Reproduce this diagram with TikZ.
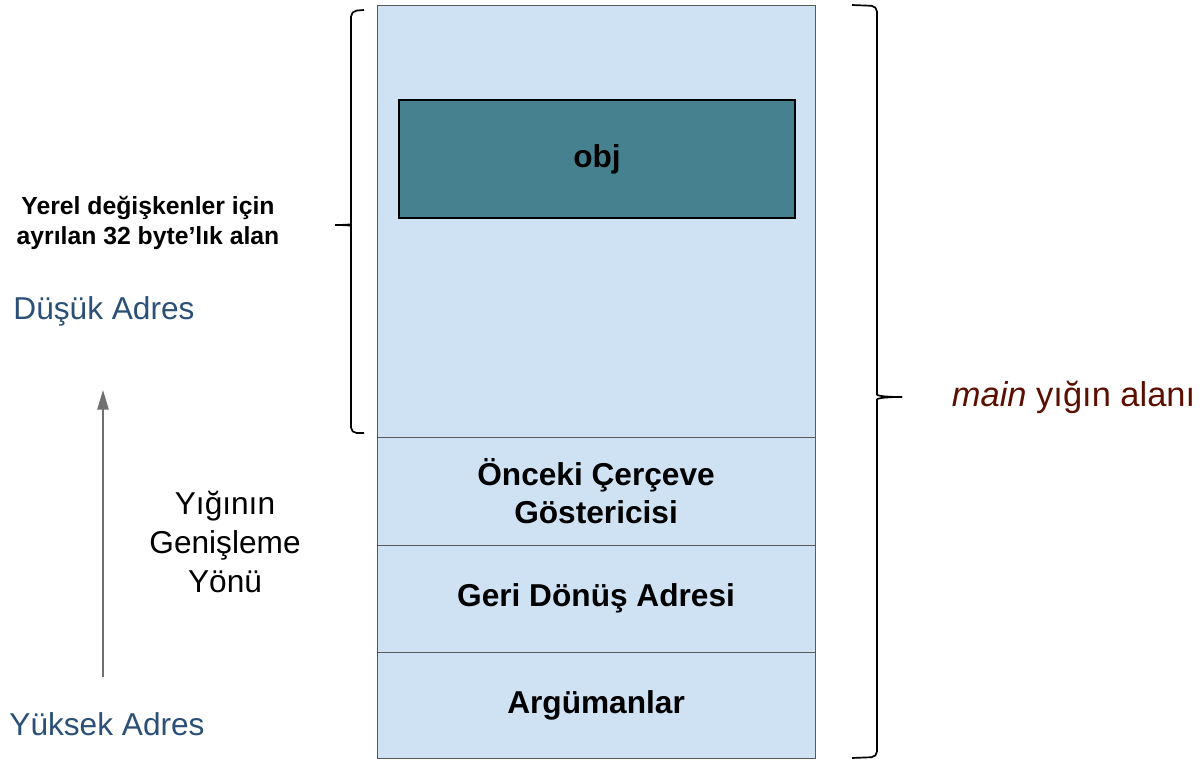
\documentclass[tikz,border=0pt]{standalone}
\usepackage{fontspec}
\setmainfont{Liberation Sans}
\usepackage{xcolor}
\usetikzlibrary{positioning, arrows.meta}

\definecolor{cellblue}{HTML}{CFE2F3}
\definecolor{cellgray}{HTML}{595959}
\definecolor{objteal}{HTML}{45818E}
\definecolor{addrblue}{HTML}{2B5077}
\definecolor{framered}{HTML}{5B0F00}
\definecolor{arrowgray}{HTML}{707070}

\begin{document}
\begin{tikzpicture}[x=0.025cm, y=-0.025cm,
    cell/.style={draw=cellgray, line width=0.6pt, fill=cellblue, minimum width=10.95cm,
        inner sep=0pt, outer sep=0pt, align=center,
        font=\bfseries\fontsize{22.5}{27}\selectfont},
    objbox/.style={draw=black, line width=1.4pt, fill=objteal, inner sep=0pt,
        font=\bfseries\fontsize{22.5}{27}\selectfont},
    addr/.style={text=addrblue, font=\fontsize{22.5}{27}\selectfont},
    brace/.style={line width=1.2pt, rounded corners=4pt}]
    \useasboundingbox (0,0) rectangle (1200,762);

    % stack frame cells, top to bottom
    \node[cell, minimum height=10.8cm, anchor=north west] (locals) at (377,5) {};
    \node[cell, minimum height=2.7cm, below=0pt of locals] (prevfp) {Önceki Çerçeve\\Göstericisi};
    \node[cell, minimum height=2.675cm, below=0pt of prevfp] (retaddr) {Geri Dönüş Adresi};
    \node[cell, minimum height=2.65cm, below=0pt of retaddr] (args) {Argümanlar};
    \node[objbox, minimum width=9.9cm, minimum height=2.95cm, anchor=north west] (obj) at (398,99) {obj};

    % labels on the left
    \node[align=center, font=\bfseries\fontsize{17.6}{21.3}\selectfont] (locnote) at (148,223)
        {Yerel değişkenler için\\ayrılan 32 byte’lık alan};
    \node[addr] (low) at (104,311) {Düşük Adres};
    \node[addr] (high) at (107,724) {Yüksek Adres};
    \node[align=center, font=\fontsize{22.5}{28}\selectfont] (growth) at (225,542)
        {Yığının\\Genişleme\\Yönü};

    % growth direction
    \coordinate (growtail) at (103,677);
    \coordinate (growtip) at (103,390);
    \draw[arrowgray, line width=1.4pt, -{Triangle[length=14pt, width=8pt]}] (growtail) -- (growtip);

    % braces
    \draw[brace] (364,10) -- (351,11) -- (351,219) .. controls (351,224) and (348,225) .. (335,225);
    \draw[brace] (335,225) .. controls (348,225) and (351,226) .. (351,231) -- (351,433) -- (364,433);
    \draw[brace] (852,5) -- (877,6) -- (877,389) .. controls (877,395) and (880,397) .. (902,397);
    \draw[brace] (902,397) .. controls (880,397) and (877,399) .. (877,405) -- (877,757) -- (852,758);
    \node[anchor=west, text=framered, font=\fontsize{24.5}{29}\selectfont] (mainlbl) at (947,397)
        {\textit{main} yığın alanı};
\end{tikzpicture}
\end{document}
